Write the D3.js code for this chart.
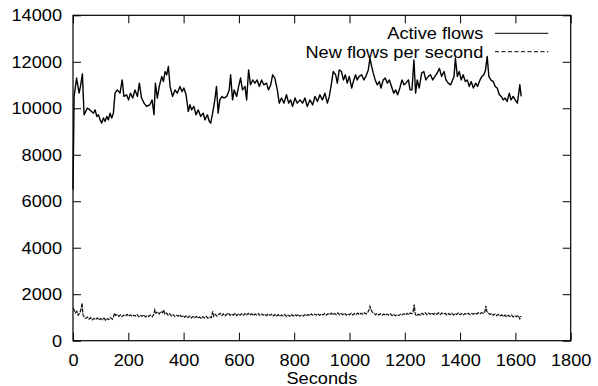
<!DOCTYPE html>
<html><head><meta charset="utf-8">
<script src="https://cdn.jsdelivr.net/npm/d3@7"></script>
<style>body{margin:0;background:#fff} text{font-family:"Liberation Sans",Arial,Helvetica,sans-serif;fill:#000}</style>
</head><body><svg id="c" width="598" height="386"></svg>
<script>
// [seconds, value]
const activeFlows = [[0,6500],[4,10510],[13,11300],[22,10650],[27,10940],[34,11480],[40,9720],[43,9790],[52,10010],[61,9930],[74,9790],[80,9930],[86,9650],[92,9720],[98,9500],[104,9360],[110,9580],[116,9430],[122,9650],[128,9500],[134,9790],[140,9580],[146,9790],[152,10650],[160,10790],[170,10650],[178,11220],[184,10510],[194,10580],[201,10360],[208,10650],[216,10440],[224,10790],[233,10510],[240,11080],[248,10440],[257,10220],[266,10080],[278,10150],[286,10360],[293,9720],[298,11080],[305,10440],[312,10940],[321,11370],[327,11150],[333,11580],[339,11440],[345,11800],[351,10940],[360,10510],[369,10790],[377,10650],[387,10940],[394,10720],[401,10870],[409,10580],[417,9860],[423,10150],[429,9930],[437,10080],[445,9720],[453,9930],[462,9650],[471,9790],[477,9500],[486,9720],[493,9430],[498,9360],[505,9790],[513,10360],[519,10940],[525,9790],[531,10360],[539,10510],[546,10440],[556,10510],[565,10790],[570,11440],[577,10360],[583,10790],[592,10510],[599,10940],[606,11300],[613,10790],[622,10940],[628,10360],[635,11650],[642,11010],[650,11220],[658,11080],[666,11220],[674,10940],[682,11220],[690,11010],[700,11080],[707,10790],[715,11010],[722,11440],[730,11300],[739,10790],[746,10220],[754,10440],[763,10220],[772,10580],[780,10220],[787,10360],[794,10080],[803,10440],[811,10220],[821,10360],[830,10220],[839,10440],[847,10080],[857,10360],[867,10150],[875,10510],[884,10290],[893,10580],[902,10360],[911,10650],[920,10220],[927,10510],[935,11080],[941,11580],[950,11440],[956,11080],[963,11650],[971,11580],[978,11220],[985,11440],[992,11080],[999,11370],[1008,10870],[1014,11150],[1022,11440],[1028,11220],[1035,11370],[1044,11440],[1052,11220],[1059,11370],[1068,11650],[1074,12160],[1080,11800],[1086,11510],[1093,11220],[1100,11010],[1108,11150],[1114,10870],[1122,11220],[1129,11300],[1137,11080],[1144,11220],[1152,10940],[1160,10650],[1167,10790],[1174,10580],[1182,10870],[1190,11220],[1197,11010],[1204,11080],[1213,11220],[1219,10790],[1226,10790],[1233,12080],[1239,10650],[1245,11220],[1252,10870],[1261,11510],[1269,11580],[1276,11220],[1285,11370],[1293,11440],[1301,11220],[1309,11370],[1317,11510],[1325,11720],[1333,11370],[1342,11580],[1349,11220],[1357,11080],[1366,11010],[1373,11220],[1378,11370],[1383,12160],[1390,11370],[1397,11580],[1404,11220],[1411,11440],[1419,11150],[1426,11220],[1433,10940],[1440,11150],[1448,10870],[1456,11080],[1463,10940],[1472,11220],[1479,11370],[1486,11440],[1492,11650],[1498,12230],[1504,11370],[1511,11220],[1520,11150],[1527,10940],[1534,10870],[1542,10580],[1549,10510],[1556,10360],[1563,10440],[1570,10290],[1578,10650],[1584,10360],[1592,10510],[1599,10360],[1607,10220],[1612,10650],[1616,11010],[1621,10510]];

const newFlows = [[0,1400],[4,1320],[9,1200],[14,1270],[19,1100],[24,1180],[29,1350],[33,1620],[36,1110],[40,1040],[46,960],[52,1020],[58,930],[64,990],[70,900],[76,960],[82,910],[88,980],[94,890],[100,950],[106,900],[112,970],[118,880],[124,950],[130,910],[136,990],[142,920],[146,1010],[150,1190],[154,1090],[160,1130],[166,1050],[172,1110],[178,1040],[184,1100],[190,1070],[196,1130],[202,1050],[208,1110],[214,1040],[220,1100],[226,1060],[232,1120],[238,1030],[244,1090],[250,1050],[256,1110],[262,1020],[268,1080],[274,1040],[280,1100],[286,1030],[292,1130],[296,1330],[300,1180],[306,1240],[312,1150],[318,1260],[324,1200],[328,1320],[332,1150],[338,1190],[344,1100],[350,1160],[356,1060],[362,1120],[368,1040],[374,1100],[380,1050],[386,1120],[392,1030],[398,1080],[404,1010],[410,1070],[416,1000],[422,1060],[428,980],[434,1040],[440,990],[446,1050],[452,970],[458,1020],[464,960],[470,1030],[476,980],[482,1050],[488,970],[494,1010],[500,990],[505,1260],[509,1050],[514,1140],[520,1060],[526,1120],[532,1180],[538,1080],[544,1150],[550,1070],[556,1130],[562,1190],[568,1090],[574,1150],[580,1100],[586,1170],[592,1080],[598,1150],[604,1100],[610,1160],[616,1090],[622,1170],[628,1110],[634,1180],[640,1100],[646,1160],[652,1080],[658,1150],[664,1110],[670,1170],[676,1090],[682,1150],[688,1100],[694,1140],[700,1080],[706,1150],[712,1090],[718,1140],[724,1070],[730,1130],[736,1060],[742,1120],[748,1050],[754,1110],[760,1060],[766,1130],[772,1040],[778,1100],[784,1050],[790,1120],[796,1060],[802,1130],[808,1070],[814,1140],[820,1050],[826,1100],[832,1060],[838,1120],[844,1070],[850,1130],[856,1080],[862,1150],[868,1090],[874,1140],[880,1100],[886,1160],[892,1090],[898,1150],[904,1110],[910,1170],[916,1100],[922,1160],[928,1120],[934,1190],[940,1110],[946,1170],[952,1130],[958,1200],[964,1110],[970,1170],[976,1120],[982,1180],[988,1100],[994,1160],[1000,1120],[1006,1180],[1012,1110],[1018,1170],[1024,1130],[1030,1190],[1036,1120],[1042,1180],[1048,1140],[1054,1200],[1060,1150],[1066,1230],[1070,1300],[1074,1480],[1078,1330],[1082,1240],[1088,1180],[1094,1120],[1100,1170],[1106,1110],[1112,1160],[1118,1100],[1124,1150],[1130,1090],[1136,1140],[1142,1100],[1148,1160],[1154,1080],[1160,1130],[1166,1070],[1172,1120],[1178,1080],[1184,1140],[1190,1100],[1196,1160],[1202,1110],[1208,1180],[1214,1120],[1220,1190],[1226,1160],[1230,1250],[1234,1550],[1238,1130],[1244,1070],[1250,1140],[1256,1100],[1262,1180],[1268,1130],[1274,1200],[1280,1120],[1286,1190],[1292,1140],[1298,1200],[1304,1130],[1310,1180],[1316,1140],[1322,1200],[1328,1130],[1334,1190],[1340,1140],[1346,1180],[1352,1110],[1358,1170],[1364,1120],[1370,1180],[1376,1110],[1382,1170],[1388,1130],[1394,1190],[1400,1120],[1406,1170],[1412,1110],[1418,1170],[1424,1130],[1430,1180],[1436,1120],[1442,1170],[1448,1140],[1454,1190],[1460,1150],[1466,1200],[1472,1160],[1478,1210],[1484,1180],[1490,1260],[1493,1500],[1497,1250],[1502,1190],[1508,1130],[1514,1170],[1520,1100],[1526,1150],[1532,1080],[1538,1130],[1544,1060],[1550,1110],[1556,1040],[1562,1100],[1568,1030],[1574,1090],[1580,1040],[1586,1100],[1592,1020],[1598,1080],[1604,1030],[1610,1090],[1616,940],[1620,1060]];

const xTicks = [0,200,400,600,800,1000,1200,1400,1600,1800];
const yTicks = [0,2000,4000,6000,8000,10000,12000,14000];
const seriesNames = ["Active flows","New flows per second"];
const xLabel = "Seconds";

const L = 73, R = 570.7, T = 15.3, B = 340.7;
const FS = 17, SX = 1.07;
const svg = d3.select("#c");
const x = d3.scaleLinear().domain([0,1800]).range([L,R]);
const y = d3.scaleLinear().domain([0,14000]).range([B,T]);

// axes
const gx = svg.append("g").attr("transform",`translate(0,${B})`)
  .call(d3.axisBottom(x).tickValues(xTicks).tickFormat(d3.format("d")).tickSizeInner(-8).tickSizeOuter(0).tickPadding(13));
const gxt = svg.append("g").attr("transform",`translate(0,${T})`)
  .call(d3.axisTop(x).tickValues(xTicks).tickFormat("").tickSizeInner(-8).tickSizeOuter(0));
const gy = svg.append("g").attr("transform",`translate(${L},0)`)
  .call(d3.axisLeft(y).tickValues(yTicks).tickFormat(d3.format("d")).tickSizeInner(-8).tickSizeOuter(0).tickPadding(11));
const gyr = svg.append("g").attr("transform",`translate(${R},0)`)
  .call(d3.axisRight(y).tickValues(yTicks).tickFormat("").tickSizeInner(-8).tickSizeOuter(0));
[gx,gxt,gy,gyr].forEach(g=>{
  g.select(".domain").remove();
  g.selectAll(".tick line").attr("stroke","#000").attr("stroke-width",1);
});
gx.selectAll(".tick text").attr("font-size",FS).attr("font-family",null).attr("transform",`scale(${SX},1)`);
gy.selectAll(".tick text").attr("font-size",FS).attr("font-family",null)
  .attr("x",-11/SX).attr("transform",`scale(${SX},1)`);
svg.selectAll(".tick text").style("font-family",'"Liberation Sans",Arial,sans-serif');

// frame
svg.append("rect").attr("x",L).attr("y",T).attr("width",R-L).attr("height",B-T)
  .attr("fill","none").attr("stroke","#000").attr("stroke-width",1.2);

const line = d3.line().x(d=>x(d[0])).y(d=>y(d[1]));
svg.append("path").datum(activeFlows).attr("d",line).attr("fill","none")
  .attr("stroke","#000").attr("stroke-width",1.4).attr("stroke-linejoin","round");
svg.append("path").datum(newFlows).attr("d",line).attr("fill","none")
  .attr("stroke","#111").attr("stroke-width",1.2).attr("stroke-dasharray","4,1");

// x label
svg.append("text").attr("transform",`translate(${(L+R)/2},383.5) scale(${SX},1)`)
  .attr("text-anchor","middle").attr("font-size",FS).text(xLabel);

// legend
const legY = [33.3, 51.7];
const dashes = [null, "4,2.5"];
seriesNames.forEach((n,i)=>{
  svg.append("text").attr("transform",`translate(483.3,${legY[i]+6}) scale(${SX},1)`)
    .attr("text-anchor","end").attr("font-size",FS).text(n);
  svg.append("line").attr("x1",495).attr("x2",548.3).attr("y1",legY[i]).attr("y2",legY[i])
    .attr("stroke","#000").attr("stroke-width",1).attr("stroke-dasharray",dashes[i]);
});
</script></body></html>
